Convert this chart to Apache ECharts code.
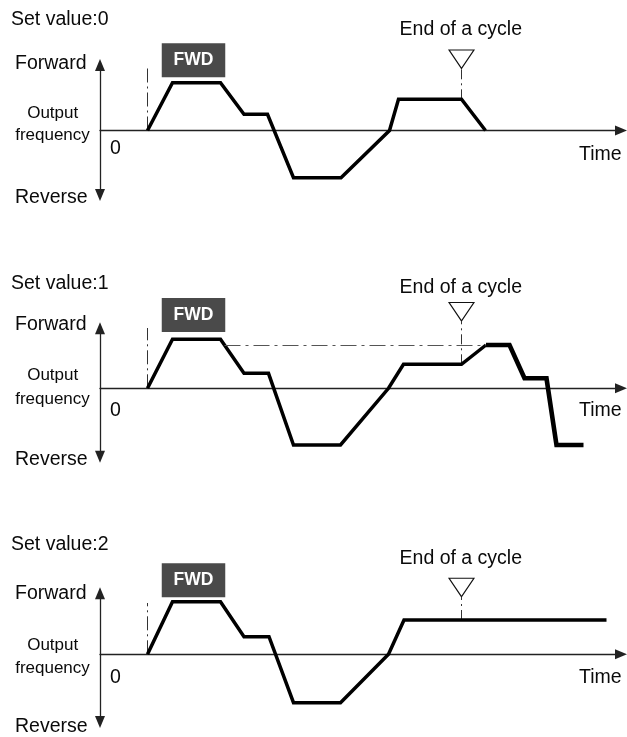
<!DOCTYPE html>
<html>
<head>
<meta charset="utf-8">
<script src="https://cdn.jsdelivr.net/npm/echarts@6/dist/echarts.min.js"></script>
<style>
html, body { margin: 0; padding: 0; background: #fff; }
#chart { width: 627px; height: 737px; }
</style>
</head>
<body>
<div id="chart"></div>
<script>
// time: arbitrary units from the origin, frequency: arbitrary units (0 = stop)
const panelTitles = ['Set value:0', 'Set value:1', 'Set value:2']

const time0 = [9.5, 14.5, 24.1, 28.8, 33.5, 38.7, 48.2, 57.9, 59.7, 72.3, 77.1]
const freq0 = [0, 47.8, 47.8, 16.2, 16.2, -47.2, -47.2, 0, 31.2, 31.2, 0]

const time1 = [9.5, 14.5, 24.1, 28.8, 33.7, 38.7, 48.1, 57.7, 60.7, 72.3, 77.2]
const freq1 = [0, 49, 49, 15, 15, -56.7, -56.7, 0, 24, 24, 43.3]
// after the end of the cycle (drawn heavier)
const time1b = [77.2, 81.9, 84.9, 89.3, 91.3, 96.7]
const freq1b = [43.3, 43.3, 10, 10, -56.7, -56.7]
// dash-dot reference level
const refTime1 = [24.9, 77.2]
const refFreq1 = [42.8, 42.8]

const time2 = [9.5, 14.5, 24.1, 28.8, 33.8, 38.7, 48.1, 57.7, 60.8, 101.3]
const freq2 = [0, 52.6, 52.6, 17.6, 17.6, -48.4, -48.4, 0, 34.3, 34.3]

const startTime = 9.5
const endCycleTime = 72.3
const fwdTime = 18.7

const zip = (t, f) => t.map((v, i) => [v, f[i]])

const panels = [
  { data: zip(time0, freq0), top: 65, height: 130, yMin: -64.5, yMax: 65.5,
    startTop: 62.2, endFreq: 31.2, triBottom: 62.2, triMid: 71.3, fwdMid: 70.2,
    text: { title: 20, fwd: 63.3, out: 113.5, freqLbl: 135.5, zero: 149, rev: 198, time: 154.5, end: 29.5 } },
  { data: zip(time1, freq1), top: 328.3, height: 128.4, yMin: -68.4, yMax: 60,
    startTop: 60.3, endFreq: 24, triBottom: 67.3, triMid: 76.6, fwdMid: 73.3,
    text: { title: 283.3, fwd: 325, out: 375.5, freqLbl: 399.5, zero: 411, rev: 460, time: 410.5, end: 288 } },
  { data: zip(time2, freq2), top: 593.3, height: 128.7, yMin: -67.7, yMax: 61,
    startTop: 51.3, endFreq: 34.3, triBottom: 57.6, triMid: 66.8, fwdMid: 74,
    text: { title: 545, fwd: 593.3, out: 645, freqLbl: 668, zero: 677.5, rev: 726.5, time: 677.5, end: 559 } }
]

const FONT = '"Liberation Sans", Arial, sans-serif'
const axisColor = '#222'

const grid = [], xAxis = [], yAxis = [], series = [], graphic = []

panels.forEach((p, i) => {
  grid.push({ left: 100, right: 6, top: p.top, height: p.height })
  xAxis.push({
    type: 'value', gridIndex: i, min: 0, max: 104.2,
    axisLine: { onZero: true, symbol: ['none', 'triangle'], symbolSize: [10, 12], lineStyle: { color: axisColor, width: 1.3 } },
    axisTick: { show: false }, axisLabel: { show: false }, splitLine: { show: false }
  })
  yAxis.push({
    type: 'value', gridIndex: i, min: p.yMin, max: p.yMax,
    axisLine: { onZero: false, symbol: ['triangle', 'triangle'], symbolSize: [10, 12], lineStyle: { color: axisColor, width: 1.3 } },
    axisTick: { show: false }, axisLabel: { show: false }, splitLine: { show: false }
  })

  const common = { xAxisIndex: i, yAxisIndex: i, silent: true, animation: false }

  // start marker
  series.push({ ...common, type: 'line', symbol: 'none', clip: false,
    data: [[startTime, 0], [startTime, p.startTop]],
    lineStyle: { color: '#333', width: 1, type: [14, 4, 2, 4] } })
  // end of a cycle marker line
  series.push({ ...common, type: 'line', symbol: 'none', clip: false,
    data: [[endCycleTime, p.endFreq], [endCycleTime, p.triBottom]],
    lineStyle: { color: '#333', width: 1, type: [10, 4, 2, 4] } })
  // output frequency
  series.push({ ...common, type: 'line', symbol: 'none', clip: false, data: p.data,
    lineStyle: { color: '#000', width: 3.5, join: 'miter' } })
  // triangle
  series.push({ ...common, type: 'scatter', clip: false, data: [[endCycleTime, p.triMid]],
    symbol: 'triangle', symbolSize: [25, 18.5], symbolRotate: 180,
    itemStyle: { color: '#fff', borderColor: '#111', borderWidth: 1.1, opacity: 1 } })
  // FWD box
  series.push({ ...common, type: 'scatter', clip: false, data: [[fwdTime, p.fwdMid]],
    symbol: 'rect', symbolSize: [63.5, 34],
    itemStyle: { color: '#4a4a4a', opacity: 1 },
    label: { show: true, position: 'inside', formatter: 'FWD', color: '#fff', fontWeight: 'bold', fontSize: 17.5, fontFamily: FONT } })

  const t = p.text
  const txt = (text, x, y, size, align) => ({
    type: 'text', x, y, silent: true,
    style: { text, font: `${size}px ${FONT}`, fill: '#0a0a0a', textAlign: align, textVerticalAlign: 'middle' }
  })
  graphic.push(
    txt(panelTitles[i], 11, t.title, 19.5, 'left'),
    txt('Forward', 15, t.fwd, 19.5, 'left'),
    txt('Output', 52.7, t.out, 17, 'center'),
    txt('frequency', 52.5, t.freqLbl, 17, 'center'),
    txt('0', 110, t.zero, 19.5, 'left'),
    txt('Reverse', 15, t.rev, 19.5, 'left'),
    txt('Time', 621.7, t.time, 19.5, 'right'),
    txt('End of a cycle', 460.8, t.end, 19.5, 'center')
  )
})

// panel 1 extras
series.push({ xAxisIndex: 1, yAxisIndex: 1, type: 'line', symbol: 'none', clip: false, silent: true, animation: false,
  data: zip(refTime1, refFreq1), lineStyle: { color: '#555', width: 1.2, type: [16, 5, 3, 5] } })
series.push({ xAxisIndex: 1, yAxisIndex: 1, type: 'line', symbol: 'none', clip: false, silent: true, animation: false,
  data: zip(time1b, freq1b), lineStyle: { color: '#000', width: 4.6, join: 'miter' } })

const chart = echarts.init(document.getElementById('chart'))
chart.setOption({
  backgroundColor: '#fff',
  animation: false,
  grid, xAxis, yAxis, series, graphic
})
</script>
</body>
</html>
